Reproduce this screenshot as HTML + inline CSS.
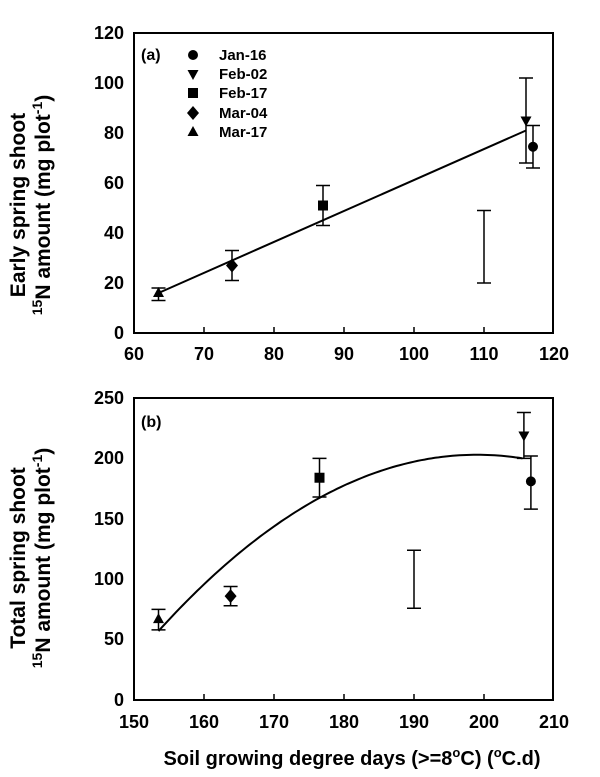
<!DOCTYPE html>
<html><head><meta charset="utf-8"><style>
body{margin:0;background:#fff}
svg text{font-family:"Liberation Sans",Arial,sans-serif;font-weight:bold;fill:#000}
</style></head><body>
<svg id="s" width="600" height="772" viewBox="0 0 600 772" xmlns="http://www.w3.org/2000/svg">
<rect x="134" y="33" width="419" height="300" fill="none" stroke="#000" stroke-width="2"/>
<rect x="134" y="398" width="419" height="302" fill="none" stroke="#000" stroke-width="2"/>
<g font-size="18" text-anchor="end">
<text x="124" y="39">120</text><text x="124" y="89">100</text><text x="124" y="139">80</text><text x="124" y="189">60</text><text x="124" y="239">40</text><text x="124" y="289">20</text><text x="124" y="339">0</text>
<text x="124" y="404">250</text><text x="124" y="464">200</text><text x="124" y="525">150</text><text x="124" y="585">100</text><text x="124" y="645">50</text><text x="124" y="706">0</text>
</g>
<g font-size="18" text-anchor="middle">
<text x="134" y="360">60</text><text x="204" y="360">70</text><text x="274" y="360">80</text><text x="344" y="360">90</text><text x="414" y="360">100</text><text x="484" y="360">110</text><text x="554" y="360">120</text>
<text x="134" y="728">150</text><text x="204" y="728">160</text><text x="274" y="728">170</text><text x="344" y="728">180</text><text x="414" y="728">190</text><text x="484" y="728">200</text><text x="554" y="728">210</text>
<text x="352" y="765" font-size="20">Soil growing degree days (&gt;=8<tspan font-size="13" dy="-8">o</tspan><tspan dy="8">C) (</tspan><tspan font-size="13" dy="-8">o</tspan><tspan dy="8">C.d)</tspan></text>
</g>
<g font-size="21" text-anchor="middle">
<text transform="translate(25,205) rotate(-90)">Early spring shoot</text>
<text transform="translate(50,205) rotate(-90)"><tspan font-size="14" dy="-8">15</tspan><tspan dy="8">N amount (mg plot</tspan><tspan font-size="14" dy="-8">-1</tspan><tspan dy="8">)</tspan></text>
<text transform="translate(25,558) rotate(-90)">Total spring shoot</text>
<text transform="translate(50,558) rotate(-90)"><tspan font-size="14" dy="-8">15</tspan><tspan dy="8">N amount (mg plot</tspan><tspan font-size="14" dy="-8">-1</tspan><tspan dy="8">)</tspan></text>
</g>
<text x="141" y="60" font-size="16">(a)</text>
<text x="141" y="427" font-size="16">(b)</text>
<g font-size="15"><text x="219" y="60">Jan-16</text><text x="219" y="79">Feb-02</text><text x="219" y="98">Feb-17</text><text x="219" y="118">Mar-04</text><text x="219" y="137">Mar-17</text></g>
<g id="m"></g>
</svg>
<script>
var g=document.getElementById('m'),h='';
function mk(t,x,y){var r=5.5;
if(t=='c')h+='<circle cx="'+x+'" cy="'+y+'" r="5" fill="#000"/>';
if(t=='v')h+='<polygon points="'+(x-r)+','+(y-4)+' '+(x+r)+','+(y-4)+' '+x+','+(y+6)+'" fill="#000"/>';
if(t=='s')h+='<rect x="'+(x-5)+'" y="'+(y-5)+'" width="10" height="10" fill="#000"/>';
if(t=='d')h+='<polygon points="'+x+','+(y-7)+' '+(x+6)+','+y+' '+x+','+(y+7)+' '+(x-6)+','+y+'" fill="#000"/>';
if(t=='t')h+='<polygon points="'+(x-r)+','+(y+4)+' '+(x+r)+','+(y+4)+' '+x+','+(y-6)+'" fill="#000"/>';}
function eb(x,a,b){h+='<path d="M'+x+' '+a+'V'+b+'M'+(x-7)+' '+a+'h14M'+(x-7)+' '+b+'h14" stroke="#000" stroke-width="1.5" fill="none"/>';}
mk('c',193,55);mk('v',193,74);mk('s',193,93);mk('d',193,113);mk('t',193,132);
[70,80,90,100,110].forEach(function(v){var x=134+(v-60)*7;h+='<path d="M'+x+' 333v-6" stroke="#000" stroke-width="1.5"/>';});
[160,170,180,190,200].forEach(function(v){var x=134+(v-150)*7;h+='<path d="M'+x+' 700v-6" stroke="#000" stroke-width="1.5"/>';});
function AX(v){return 134+(v-60)*7}function AY(v){return 333-v*2.5}
function BX(v){return 134+(v-150)*7}function BY(v){return 700-v*1.208}
h+='<line x1="'+AX(63.5)+'" y1="'+AY(16)+'" x2="'+AX(116)+'" y2="'+AY(81)+'" stroke="#000" stroke-width="2"/>';
var A=[['t',63.5,16,13,18],['d',74,27,21,33],['s',87,51,43,59],['v',116,85,68,102],['c',117,74.5,66,83]];
A.forEach(function(p){eb(AX(p[1]),AY(p[3]),AY(p[4]));mk(p[0],AX(p[1]),AY(p[2]));});
eb(AX(110),AY(20),AY(49));
var d='';for(var v=153.5;v<=205.7;v+=0.5){d+=(d?'L':'M')+BX(v).toFixed(1)+' '+BY(203-0.0705*(v-199)*(v-199)).toFixed(1);}
h+='<path d="'+d+'" stroke="#000" stroke-width="2" fill="none"/>';
var B=[['t',153.5,67,58,75],['d',163.8,86,78,94],['s',176.5,184,168,200],['v',205.7,219,200,238],['c',206.7,181,158,202]];
B.forEach(function(p){eb(BX(p[1]),BY(p[3]),BY(p[4]));mk(p[0],BX(p[1]),BY(p[2]));});
eb(BX(190),BY(76),BY(124));
g.innerHTML=h;
</script>
</body></html>
